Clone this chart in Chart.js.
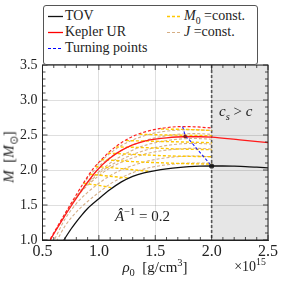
<!DOCTYPE html>
<html lang="en">
<head>
<meta charset="UTF-8">
<title>M vs rho0</title>
<script src="https://cdn.jsdelivr.net/npm/chart.js"></script>
<style>
  body { margin: 0; background: #fff; }
  #wrap { position: relative; width: 283px; height: 283px; font-family: "Liberation Serif", serif; color: #222; }
  #wrap canvas { position: absolute; left: 0; top: 0; }
  .t { position: absolute; white-space: nowrap; line-height: 1; }
  #legend { position: absolute; left: 43px; top: 5px; width: 213px; height: 58px; border: 1px solid #555; border-radius: 3px; background: #fff; }
  .item { position: absolute; font-size: 14px; line-height: 16px; height: 16px; white-space: nowrap; }
  .item svg { position: absolute; left: 0; top: 7px; }
  .item span { position: absolute; left: 17px; top: 0; }
  sub, sup { font-size: 70%; line-height: 0; }
</style>
</head>
<body>
<div id="wrap">
  <canvas id="chart" width="283" height="283"></canvas>

  <div id="legend">
    <div class="item" style="left:4px; top:2px;">
      <svg width="15" height="3"><line x1="0" y1="1.5" x2="15" y2="1.5" stroke="#111" stroke-width="1.3"/></svg>
      <span>TOV</span>
    </div>
    <div class="item" style="left:4px; top:18px;">
      <svg width="15" height="3"><line x1="0" y1="1.5" x2="15" y2="1.5" stroke="#f00" stroke-width="1.3"/></svg>
      <span>Kepler UR</span>
    </div>
    <div class="item" style="left:4px; top:34px;">
      <svg width="15" height="3"><line x1="0" y1="1.5" x2="15" y2="1.5" stroke="#00f" stroke-width="1.2" stroke-dasharray="3,2"/></svg>
      <span>Turning points</span>
    </div>
    <div class="item" style="left:123px; top:2px;">
      <svg width="15" height="3"><line x1="0" y1="1.5" x2="15" y2="1.5" stroke="#ffc800" stroke-width="1.3" stroke-dasharray="3,2"/></svg>
      <span><i>M</i><sub>0</sub> =const.</span>
    </div>
    <div class="item" style="left:123px; top:18px;">
      <svg width="15" height="3"><line x1="0" y1="1.5" x2="15" y2="1.5" stroke="#d6ae84" stroke-width="1.2" stroke-dasharray="3,2"/></svg>
      <span><i>J</i> =const.</span>
    </div>
  </div>

  <div class="t" style="left:219px; top:104px; font-size:15px;"><i>c<sub>s</sub></i> &gt; <i>c</i></div>
  <div class="t" style="left:115px; top:209px; font-size:15px;"><i>Â</i><sup>−1</sup> = 0.2</div>
  <div class="t" style="left:9px; top:157px; font-size:15px; transform: translate(-50%,-50%) rotate(-90deg);"><i>M</i>&nbsp; [<i>M</i><sub>⊙</sub>]</div>
  <div class="t" style="left:155px; top:267px; font-size:15px; transform: translate(-50%,-50%);"><i>ρ</i><sub>0</sub>&nbsp; [g/cm<sup>3</sup>]</div>
  <div class="t" style="left:250px; top:267px; font-size:14px; transform: translate(-50%,-50%);">×10<sup>15</sup></div>
</div>

<script>
// tick labels
const xTicks = [0.5, 1.0, 1.5, 2.0, 2.5];
const yTicks = [1.0, 1.5, 2.0, 2.5, 3.0, 3.5];
const causalLimit = 2.0; // c_s > c beyond this density (x1e15)

// non-rotating sequence
const tov = [[0.66,0.92],[0.69,1.0],[0.75,1.15],[0.8,1.26],[0.85,1.36],[0.9,1.45],[1.0,1.59],[1.1,1.72],[1.2,1.83],[1.3,1.91],[1.4,1.96],[1.5,1.99],[1.6,2.015],[1.7,2.035],[1.8,2.048],[1.9,2.055],[2.0,2.057],[2.1,2.057],[2.2,2.054],[2.3,2.049],[2.4,2.04],[2.5,2.03]];

// Kepler (mass shedding) sequences
const keplerUR = [[0.55,0.93],[0.57,1.0],[0.65,1.22],[0.76,1.5],[0.87,1.76],[0.98,1.99],[1.1,2.17],[1.2,2.28],[1.3,2.36],[1.4,2.41],[1.5,2.44],[1.6,2.46],[1.75,2.475],[1.9,2.475],[2.0,2.47],[2.25,2.43],[2.5,2.39]];
const keplerUpper = [[0.55,0.95],[0.565,1.0],[0.65,1.24],[0.76,1.54],[0.87,1.83],[0.95,2.02],[1.03,2.16],[1.1,2.27],[1.2,2.39],[1.3,2.48],[1.4,2.54],[1.5,2.58],[1.6,2.605],[1.72,2.62],[1.85,2.617],[2.0,2.6]];

// turning points
const turning = [[1.743,2.62],[1.765,2.5],[1.8,2.434],[1.85,2.34],[1.9,2.245],[1.95,2.151],[2.0,2.057]];
const turnDots = [[1.765,2.48],[2.0,2.057]];

// J = const sequences
const jLine1 = [[0.6,0.92],[0.63,1.0],[0.7,1.2],[0.8,1.4],[0.9,1.55],[1.0,1.68],[1.1,1.8],[1.2,1.89],[1.35,1.99],[1.5,2.05],[1.7,2.09],[1.85,2.1],[2.0,2.1]];
const jLine2 = [[0.59,0.95],[0.62,1.05],[0.7,1.3],[0.8,1.52],[0.9,1.68],[1.0,1.81],[1.1,1.92],[1.2,2.0],[1.35,2.09],[1.5,2.15],[1.7,2.19],[1.85,2.2],[2.0,2.19]];
const jLine3 = [[0.62,1.14],[0.7,1.38],[0.8,1.61],[0.9,1.78],[1.0,1.92],[1.1,2.03],[1.2,2.11],[1.35,2.2],[1.5,2.26],[1.7,2.3],[1.85,2.31],[2.0,2.3]];
const jLine4 = [[0.68,1.3],[0.75,1.49],[0.85,1.71],[0.95,1.88],[1.05,2.01],[1.2,2.15],[1.35,2.25],[1.5,2.32],[1.7,2.37],[1.85,2.38],[2.0,2.37]];
const jLine5 = [[0.76,1.52],[0.85,1.73],[0.95,1.9],[1.05,2.04],[1.2,2.2],[1.35,2.32],[1.5,2.39],[1.7,2.44],[1.85,2.45],[2.0,2.44]];
const jLine6 = [[0.86,1.8],[0.95,1.98],[1.05,2.12],[1.2,2.28],[1.35,2.39],[1.5,2.46],[1.7,2.51],[1.85,2.52],[2.0,2.51]];
const jLine7 = [[0.98,2.07],[1.1,2.24],[1.2,2.35],[1.35,2.46],[1.5,2.53],[1.7,2.57],[1.85,2.575],[2.0,2.565]];

// M0 = const sequences
const m0Line1 = [[0.865,1.81],[1.0,1.78],[1.12,1.745]];
const m0Line2 = [[0.92,1.94],[1.1,1.91],[1.27,1.885]];
const m0Line3 = [[0.97,2.05],[1.2,2.02],[1.45,1.98]];
const m0Line4 = [[1.02,2.15],[1.3,2.12],[1.6,2.1],[1.8,2.09],[2.0,2.085]];
const m0Line5 = [[1.08,2.24],[1.35,2.22],[1.65,2.2],[2.0,2.19]];
const m0Line6 = [[1.15,2.33],[1.4,2.32],[1.7,2.3],[2.0,2.29]];
const m0Line7 = [[1.24,2.42],[1.5,2.41],[1.75,2.4],[2.0,2.39]];
const m0Line8 = [[1.36,2.51],[1.6,2.5],[1.8,2.495],[2.0,2.49]];
const m0Line9 = [[1.55,2.585],[1.75,2.58],[2.0,2.565]];

const jLines = [jLine1, jLine2, jLine3, jLine4, jLine5, jLine6, jLine7];
const m0Lines = [m0Line1, m0Line2, m0Line3, m0Line4, m0Line5, m0Line6, m0Line7, m0Line8, m0Line9];

const pts = arr => arr.map(p => ({x: p[0], y: p[1]}));

function curve(data, color, width, dash) {
    return {
        data: pts(data),
        borderColor: color,
        borderWidth: width,
        borderDash: dash || [],
        pointRadius: 0,
        fill: false,
        cubicInterpolationMode: 'monotone'
    };
}

let datasets = [
    curve(tov, '#111', 1.3),
    {
        data: pts(turnDots),
        showLine: false,
        pointRadius: [1.8, 2.6],
        pointBackgroundColor: ['#8b1a1a', '#333'],
        pointBorderColor: ['#8b1a1a', '#333'],
        pointBorderWidth: 0
    },
    curve(turning, '#1a1aff', 1.1, [3, 2]),
    curve(keplerUR, '#ff1a1a', 1.3),
    curve(keplerUpper, '#ff2020', 1.2, [3, 2])
];
m0Lines.forEach(l => datasets.push(curve(l, 'rgb(255,200,0)', 1.4, [3, 2])));
jLines.forEach(l => datasets.push(curve(l, 'rgba(208,166,122,0.9)', 1.1, [3, 2])));

// shaded region, dashed limit, frame and inward ticks
const decor = {
    id: 'decor',
    beforeDraw(chart) {
        const {ctx, chartArea: a, scales: {x}} = chart;
        const x0 = x.getPixelForValue(causalLimit);
        ctx.save();
        ctx.fillStyle = '#e6e6e6';
        ctx.fillRect(x0, a.top, a.right - x0, a.bottom - a.top);
        ctx.restore();
    },
    beforeDatasetsDraw(chart) {
        const {ctx, chartArea: a, scales: {x}} = chart;
        const x0 = x.getPixelForValue(causalLimit);
        ctx.save();
        ctx.strokeStyle = '#555';
        ctx.lineWidth = 1.6;
        ctx.setLineDash([3, 2]);
        ctx.beginPath();
        ctx.moveTo(x0, a.top);
        ctx.lineTo(x0, a.bottom);
        ctx.stroke();
        ctx.restore();
    },
    afterDraw(chart) {
        const {ctx, chartArea: a, scales: {x, y}} = chart;
        ctx.save();
        ctx.strokeStyle = '#222';
        ctx.lineWidth = 1;
        ctx.strokeRect(a.left, a.top, a.right - a.left, a.bottom - a.top);
        ctx.lineWidth = 0.8;
        ctx.beginPath();
        for (let v = 0.5; v <= 2.5001; v += 0.1) {
            const px = x.getPixelForValue(v);
            const major = Math.abs(v * 2 - Math.round(v * 2)) < 1e-6;
            const len = major ? 5 : 3;
            ctx.moveTo(px, a.bottom); ctx.lineTo(px, a.bottom - len);
            ctx.moveTo(px, a.top); ctx.lineTo(px, a.top + len);
        }
        for (let v = 1.0; v <= 3.5001; v += 0.1) {
            const py = y.getPixelForValue(v);
            const major = Math.abs(v * 2 - Math.round(v * 2)) < 1e-6;
            const len = major ? 5 : 3;
            ctx.moveTo(a.left, py); ctx.lineTo(a.left + len, py);
            ctx.moveTo(a.right, py); ctx.lineTo(a.right - len, py);
        }
        ctx.stroke();
        ctx.restore();
    }
};

new Chart(document.getElementById('chart'), {
    type: 'line',
    data: { datasets: datasets },
    options: {
        responsive: false,
        animation: false,
        events: [],
        layout: { padding: { top: 65, right: 15, left: 0, bottom: 0 } },
        plugins: { legend: { display: false }, tooltip: { enabled: false } },
        scales: {
            x: {
                type: 'linear',
                min: 0.5, max: 2.5,
                afterFit: s => { s.height = 43; },
                afterBuildTicks: s => { s.ticks = xTicks.map(v => ({value: v})); },
                ticks: {
                    callback: v => v.toFixed(1),
                    font: { family: 'Liberation Serif', size: 16 },
                    color: '#222',
                    padding: 2,
                    maxRotation: 0,
                    autoSkip: false
                },
                grid: { color: 'rgba(0,0,0,0.16)', lineWidth: 0.8, drawTicks: false },
                border: { color: '#222', width: 1 }
            },
            y: {
                type: 'linear',
                min: 1.0, max: 3.5,
                afterFit: s => { s.width = 42.5; },
                afterBuildTicks: s => { s.ticks = yTicks.map(v => ({value: v})); },
                ticks: {
                    callback: v => v.toFixed(1),
                    font: { family: 'Liberation Serif', size: 14 },
                    color: '#222',
                    padding: 5,
                    autoSkip: false
                },
                grid: { color: 'rgba(0,0,0,0.16)', lineWidth: 0.8, drawTicks: false },
                border: { color: '#222', width: 1 }
            }
        }
    },
    plugins: [decor]
});
</script>
</body>
</html>
